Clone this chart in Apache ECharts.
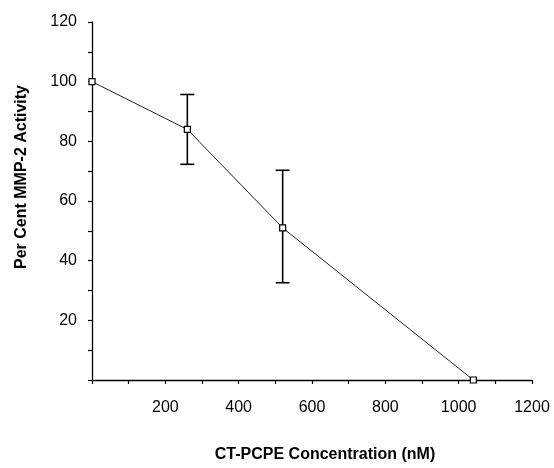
<!DOCTYPE html>
<html>
<head>
<meta charset="utf-8">
<script src="https://cdn.jsdelivr.net/npm/echarts@6/dist/echarts.min.js"></script>
<style>html,body{margin:0;padding:0;background:#fff;}#c{width:554px;height:468px;}</style>
</head>
<body>
<div id="c"></div>
<script>
var concentrations = [0, 260, 520, 1040];
var activity = [100, 84, 51, 0];
var errLow = [null, 72.3, 32.6, null];
var errHigh = [null, 95.7, 70.3, null];
var xTicks = [200, 400, 600, 800, 1000, 1200];
var yTicks = [20, 40, 60, 80, 100, 120];

var lineData = concentrations.map(function (c, i) { return [c, activity[i]]; });
var errData = [];
concentrations.forEach(function (c, i) {
  if (errLow[i] != null) errData.push([c, errLow[i], errHigh[i]]);
});

var chart = echarts.init(document.getElementById('c'), null, {renderer: 'canvas'});
var font = 'Liberation Sans, Arial, sans-serif';
chart.setOption({
  animation: false,
  backgroundColor: '#fff',
  grid: {left: 92, right: 22, top: 22, bottom: 86, containLabel: false},
  xAxis: {
    type: 'value', min: 0, max: 1200, interval: 100,
    name: 'CT-PCPE Concentration (nM)', nameLocation: 'middle', nameGap: 67,
    nameTextStyle: {fontFamily: font, fontSize: 16, fontWeight: 'bold', color: '#000', padding: [0, 0, 0, 26]},
    axisLine: {show: true, lineStyle: {color: '#000', width: 1.3}},
    axisTick: {show: true, length: 4, inside: false, lineStyle: {color: '#000', width: 1.2}},
    axisLabel: {
      fontFamily: font, fontSize: 16, color: '#000', margin: 20,
      formatter: function (v) { return xTicks.indexOf(v) >= 0 ? String(v) : ''; }
    },
    splitLine: {show: false}
  },
  yAxis: {
    type: 'value', min: 0, max: 120, interval: 10,
    name: 'Per Cent MMP-2 Activity', nameLocation: 'middle', nameGap: 62,
    nameTextStyle: {fontFamily: font, fontSize: 16, fontWeight: 'bold', color: '#000', padding: [0, 0, 0, 48]},
    axisLine: {show: true, lineStyle: {color: '#000', width: 1.3}},
    axisTick: {show: true, length: 4, inside: false, lineStyle: {color: '#000', width: 1.2}},
    axisLabel: {
      fontFamily: font, fontSize: 16, color: '#000', margin: 15,
      formatter: function (v) { return yTicks.indexOf(v) >= 0 ? String(v) : ''; }
    },
    splitLine: {show: false}
  },
  series: [
    {
      type: 'custom',
      data: errData,
      z: 3,
      renderItem: function (params, api) {
        var x = api.value(0);
        var lo = api.coord([x, api.value(1)]);
        var hi = api.coord([x, api.value(2)]);
        var hw = 7;
        var st = {stroke: '#000', lineWidth: 1.6};
        return {
          type: 'group',
          children: [
            {type: 'line', shape: {x1: lo[0], y1: lo[1], x2: hi[0], y2: hi[1]}, style: st},
            {type: 'line', shape: {x1: lo[0] - hw, y1: lo[1], x2: lo[0] + hw, y2: lo[1]}, style: st},
            {type: 'line', shape: {x1: hi[0] - hw, y1: hi[1], x2: hi[0] + hw, y2: hi[1]}, style: st}
          ]
        };
      }
    },
    {
      type: 'line',
      data: lineData,
      z: 4,
      lineStyle: {color: '#222', width: 1},
      symbol: 'rect', symbolSize: 6,
      showAllSymbol: true,
      itemStyle: {color: '#fff', borderColor: '#000', borderWidth: 1.2}
    }
  ]
});
</script>
</body>
</html>
